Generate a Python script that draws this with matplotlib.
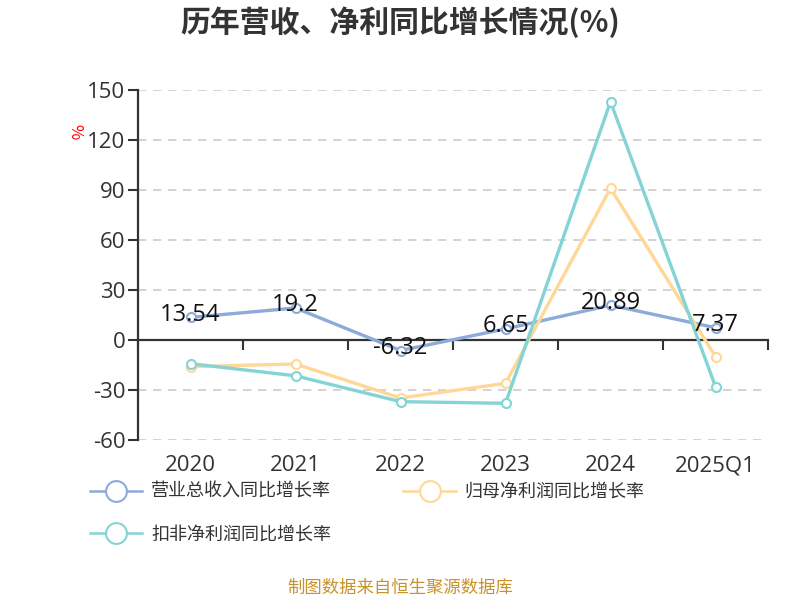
import matplotlib
matplotlib.use('Agg')
import matplotlib.pyplot as plt
from matplotlib.lines import Line2D

plt.rcParams['font.family'] = ['Noto Sans CJK SC', 'DejaVu Sans']
num_font = ['Open Sans', 'Noto Sans CJK SC']

# data
periods = ['2020', '2021', '2022', '2023', '2024', '2025Q1']
revenue_growth = [13.54, 19.2, -6.32, 6.65, 20.89, 7.37]
parent_profit_growth = [-16.0, -14.4, -34.8, -26.0, 91.0, -10.0]
deducted_profit_growth = [-14.2, -21.5, -37.0, -38.0, 143.0, -28.0]

series_names = ['营业总收入同比增长率', '归母净利润同比增长率', '扣非净利润同比增长率']
colors = ['#8eaadb', '#ffd797', '#84d4d6']
y_ticks = [-60, -30, 0, 30, 60, 90, 120, 150]

fig = plt.figure(figsize=(8, 6), dpi=100)
ax = fig.add_axes([0.1725, 0.2667, 0.7875, 0.5833])

x = list(range(len(periods)))
all_series = [revenue_growth, parent_profit_growth, deducted_profit_growth]
handles = []
for vals, name, c in zip(all_series, series_names, colors):
    ax.plot(x, vals, color=c, lw=2.4, marker='o', ms=6.5,
            mfc='white', mec=c, mew=1.5, zorder=3)
    handles.append(Line2D([0], [0], color=c, lw=1.8, marker='o', ms=15,
                          mfc='white', mec=c, mew=1.5))

# data labels for revenue
for xi, v in zip(x, revenue_growth):
    ax.text(xi, v + 1.5, f'{v:g}', ha='center', va='center',
            fontsize=17, color='#111111', zorder=5, family=num_font)

ax.set_xlim(-0.5, len(periods) - 0.5)
ax.set_ylim(-60, 150)
ax.set_yticks(y_ticks)
ax.set_yticklabels([str(t) for t in y_ticks], fontsize=16, color='#333333',
                   family=num_font)
ax.tick_params(axis='y', length=7, width=1.5, color='#333333', pad=2)
ax.yaxis.grid(True, ls=(0, (5, 4)), color='#cccccc', lw=1.2)
ax.set_axisbelow(True)

for s in ['top', 'right']:
    ax.spines[s].set_visible(False)
ax.spines['left'].set_color('#333333')
ax.spines['left'].set_linewidth(1.6)
ax.spines['bottom'].set_position(('data', 0))
ax.spines['bottom'].set_color('#333333')
ax.spines['bottom'].set_linewidth(1.6)

# boundary ticks on the zero line
ax.set_xticks([i - 0.5 for i in range(len(periods) + 1)])
ax.set_xticklabels([])
ax.tick_params(axis='x', length=7, width=1.5, color='#333333', direction='out')

# category labels at the bottom
sec = ax.secondary_xaxis(0)
sec.set_xticks(x)
sec.set_xticklabels(periods, fontsize=16, color='#333333', family=num_font)
sec.tick_params(length=0, pad=11)
sec.spines['bottom'].set_visible(False)

ax.text(-0.1, 0.88, '%', transform=ax.transAxes, color='red',
        fontsize=12, rotation=-90, ha='center', va='center')

fig.suptitle('历年营收、净利同比增长情况(%)', x=0.5, y=0.963, va='center',
             fontsize=21.5, fontweight='bold', color='#333333')

# reorder so the legend fills row by row
order = [0, 2, 1]
fig.legend([handles[i] for i in order], [series_names[i] for i in order],
           ncol=2, loc='upper left',
           bbox_to_anchor=(0.092, 0.222), frameon=False, fontsize=13,
           handlelength=2.9, handletextpad=0.5, columnspacing=4.0,
           labelspacing=1.35, labelcolor='#333333')

fig.text(0.5, 0.02, '制图数据来自恒生聚源数据库', ha='center', va='center',
         fontsize=12.5, color='#c8922b')

fig.savefig('out.png', dpi=100)
